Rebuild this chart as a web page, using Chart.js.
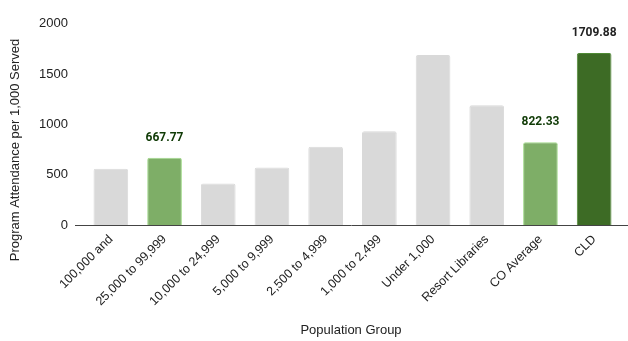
<!DOCTYPE html>
<html>
<head>
<meta charset="utf-8">
<script src="https://cdn.jsdelivr.net/npm/chart.js@4"></script>
<style>
  html, body { margin: 0; padding: 0; background: #fff; }
  #wrap { width: 628px; height: 341px; }
</style>
</head>
<body>
<div id="wrap"><canvas id="chart" width="628" height="341"></canvas></div>
<script>
const categories = ['100,000 and', '25,000 to 99,999', '10,000 to 24,999', '5,000 to 9,999', '2,500 to 4,999',
    '1,000 to 2,499', 'Under 1,000', 'Resort Libraries', 'CO Average', 'CLD'];
const values = [559, 667.77, 412, 571, 778, 933, 1689, 1190, 822.33, 1709.88];
const barColors = ['#d9d9d9', '#7eae67', '#d9d9d9', '#d9d9d9', '#d9d9d9', '#d9d9d9', '#d9d9d9', '#d9d9d9', '#7eae67', '#3d6b25'];
const edgeColors = ['#d9d9d9', '#a3da8c', '#d9d9d9', '#d9d9d9', '#d9d9d9', '#d9d9d9', '#d9d9d9', '#d9d9d9', '#a3da8c', '#4f8a35'];
const valueLabelColors = [null, '#0f3a05', null, null, null, null, null, null, '#0f3a05', '#222222'];
const yTicks = [0, 500, 1000, 1500, 2000];

const font = '"Liberation Sans", Arial, sans-serif';

const extras = {
    id: 'extras',
    afterDatasetsDraw(chart) {
        const { ctx, chartArea } = chart;
        ctx.save();
        // baseline runs a bit past the plot on both sides
        ctx.strokeStyle = '#444';
        ctx.lineWidth = 1;
        ctx.beginPath();
        ctx.moveTo(75, Math.round(chartArea.bottom) + 0.5);
        ctx.lineTo(628, Math.round(chartArea.bottom) + 0.5);
        ctx.stroke();

        // value labels
        const meta = chart.getDatasetMeta(0);
        ctx.font = 'bold 12px Roboto, sans-serif';
        ctx.textAlign = 'center';
        ctx.textBaseline = 'middle';
        meta.data.forEach((bar, i) => {
            if (!valueLabelColors[i]) return;
            ctx.fillStyle = valueLabelColors[i];
            ctx.fillText(values[i].toFixed(2), bar.x, bar.y - 20);
        });

        // axis titles
        ctx.fillStyle = '#222';
        ctx.font = '13px ' + font;
        ctx.fillText('Population Group', 351, 330);
        ctx.translate(15, 150);
        ctx.rotate(-Math.PI / 2);
        ctx.fillText('Program Attendance per 1,000 Served', 0, 0);
        ctx.restore();
    },
};

new Chart(document.getElementById('chart'), {
    type: 'bar',
    data: {
        labels: categories,
        datasets: [
            {
                data: values,
                backgroundColor: barColors,
                borderColor: edgeColors,
                borderWidth: 1,
                borderSkipped: 'bottom',
                borderRadius: 2,
                barPercentage: 0.646,
                categoryPercentage: 1,
            },
        ],
    },
    options: {
        responsive: false,
        animation: false,
        events: [],
        layout: { padding: { top: 15, right: 7, left: 0, bottom: 0 } },
        plugins: { legend: { display: false }, tooltip: { enabled: false } },
        scales: {
            x: {
                grid: { display: false, drawTicks: false },
                border: { display: false },
                ticks: {
                    color: '#222',
                    font: { family: font, size: 12.5 },
                    maxRotation: 45,
                    minRotation: 45,
                    padding: 7,
                    autoSkip: false,
                },
                afterFit(scale) { scale.height = 116; },
            },
            y: {
                min: 0,
                max: 2000,
                grid: { display: false, drawTicks: false },
                border: { display: false },
                afterBuildTicks(scale) { scale.ticks = yTicks.map((v) => ({ value: v })); },
                ticks: {
                    color: '#222',
                    font: { family: font, size: 13 },
                    padding: 16,
                    callback: (v) => String(v),
                },
                afterFit(scale) { scale.width = 84; },
            },
        },
    },
    plugins: [extras],
});
</script>
</body>
</html>
